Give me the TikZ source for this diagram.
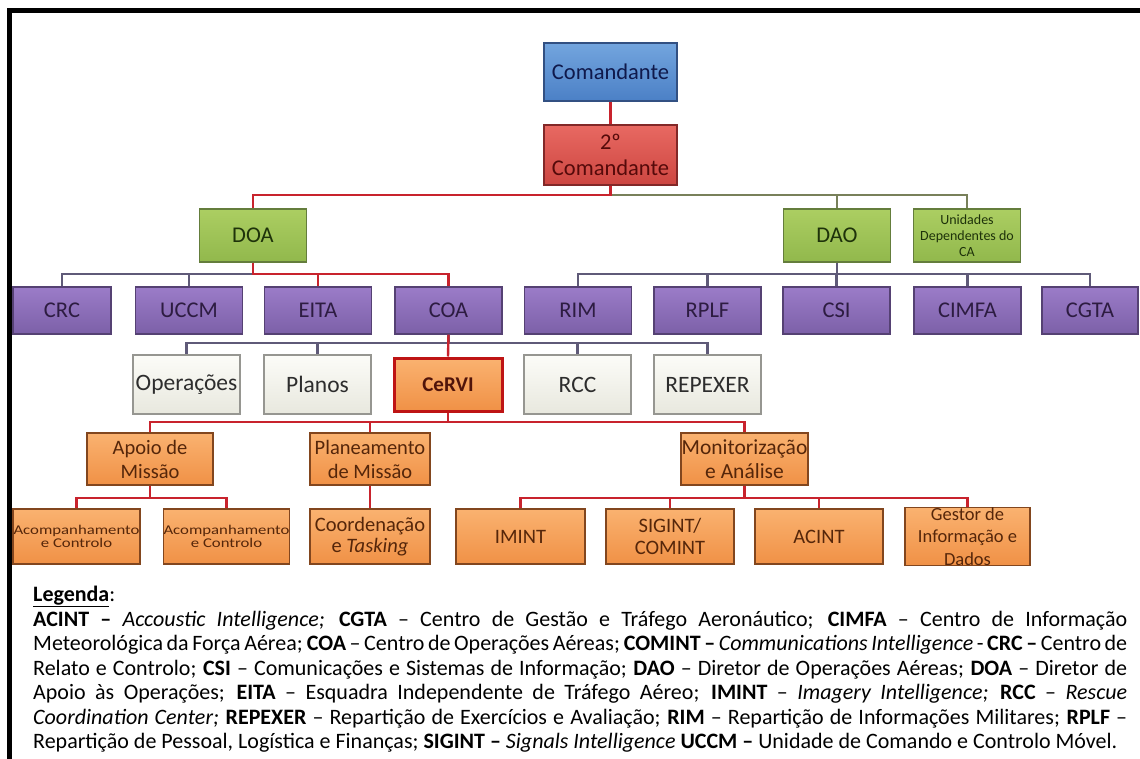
\documentclass[tikz,border=0pt]{standalone}
\usepackage{fontspec}
\setmainfont{Carlito}
\newfontfamily\widefont{Carlito}[FakeStretch=1.25]
\definecolor{linkred}{RGB}{200,35,45}
\definecolor{linkgray}{RGB}{95,90,120}
\definecolor{linkolive}{RGB}{120,128,90}
\begin{document}
\begin{tikzpicture}[x=1pt,y=-1pt,
  box/.style={rectangle,inner sep=0pt,align=center,line width=1.2pt},
  bluebox/.style={box,top color={rgb,255:red,115;green,165;blue,222},bottom color={rgb,255:red,75;green,128;blue,198},
    draw={rgb,255:red,50;green,80;blue,130},text={rgb,255:red,15;green,25;blue,75},
    minimum width=133pt,minimum height=58pt,font=\fontsize{22.5}{26}\selectfont},
  redbox/.style={box,top color={rgb,255:red,232;green,105;blue,98},bottom color={rgb,255:red,205;green,70;blue,65},
    draw={rgb,255:red,130;green,40;blue,40},text={rgb,255:red,85;green,10;blue,10},
    minimum width=133pt,minimum height=60pt,font=\fontsize{22.5}{26}\selectfont},
  greenbox/.style={box,top color={rgb,255:red,172;green,206;blue,98},bottom color={rgb,255:red,145;green,184;blue,76},
    draw={rgb,255:red,100;green,125;blue,60},text={rgb,255:red,30;green,50;blue,10},
    minimum width=107pt,minimum height=53pt,font=\fontsize{22.5}{24}\selectfont},
  purplebox/.style={box,top color={rgb,255:red,155;green,124;blue,200},bottom color={rgb,255:red,124;green,96;blue,168},
    draw={rgb,255:red,85;green,65;blue,115},text={rgb,255:red,45;green,28;blue,65},
    minimum width=107pt,minimum height=47pt,font=\fontsize{22.5}{24}\selectfont},
  whitebox/.style={box,top color={rgb,255:red,252;green,252;blue,248},bottom color={rgb,255:red,232;green,232;blue,222},
    draw={rgb,255:red,150;green,150;blue,145},text={rgb,255:red,45;green,45;blue,45},
    minimum width=107pt,minimum height=59pt,font=\fontsize{23.5}{24}\selectfont},
  orangebox/.style={box,top color={rgb,255:red,250;green,178;blue,112},bottom color={rgb,255:red,240;green,145;blue,70},
    draw={rgb,255:red,130;green,70;blue,30},text={rgb,255:red,85;green,38;blue,10},
    minimum height=52pt,font=\fontsize{20.5}{24}\selectfont},
  leafbox/.style={orangebox,minimum height=55pt},
  redlink/.style={draw=linkred,line width=2.4pt},
  graylink/.style={draw=linkgray,line width=2.4pt},
  olivelink/.style={draw=linkolive,line width=2.4pt},
  legend/.style={anchor=base west,inner sep=0pt,font=\fontsize{22}{24}\selectfont}]
  \useasboundingbox (0,0) rectangle (1140,759);
  % frame
  \draw[line width=5pt] (1140,11) -- (9.5,11) -- (9.5,759);
  % bus levels
  \coordinate (bus2) at (0,195);
  \coordinate (bus3) at (0,274);
  \coordinate (bus4) at (0,343);
  \coordinate (bus5) at (0,422);
  \coordinate (bus6) at (0,498);
  % Command
  \node[bluebox] (cmd) at (610.5,72) {Comandante};
  \node[redbox] (cmd2) at (610.5,155) {2º\\Comandante};
  % Directions
  \node[greenbox] (doa) at (253,235.5) {DOA};
  \node[greenbox] (dao) at (837,235.5) {DAO};
  \node[greenbox,font=\fontsize{14}{16}\selectfont] (unid) at (967,235.5) {Unidades\\Dependentes do\\CA};
  % Units
  \node[purplebox,minimum width=98pt] (crc) at (62,310.5) {CRC};
  \node[purplebox] (uccm) at (189,310.5) {UCCM};
  \node[purplebox] (eita) at (318,310.5) {EITA};
  \node[purplebox] (coa) at (448.5,310.5) {COA};
  \node[purplebox] (rim) at (578,310.5) {RIM};
  \node[purplebox] (rplf) at (707.5,310.5) {RPLF};
  \node[purplebox] (csi) at (836.5,310.5) {CSI};
  \node[purplebox] (cimfa) at (967.5,310.5) {CIMFA};
  \node[purplebox,minimum width=96pt] (cgta) at (1090,310.5) {CGTA};
  % COA sections
  \node[whitebox] (oper) at (186.5,384.5) {Operações};
  \node[whitebox] (planos) at (317.5,384.5) {Planos};
  \node[orangebox,draw={rgb,255:red,190;green,20;blue,20},line width=3pt,minimum width=108pt,minimum height=53pt,
    text={rgb,255:red,80;green,20;blue,10},font=\bfseries\fontsize{21}{24}\selectfont] (cervi) at (448,384.5) {CeRVI};
  \node[whitebox] (rcc) at (577.5,384.5) {RCC};
  \node[whitebox] (repexer) at (707.5,384.5) {REPEXER};
  % CeRVI cells
  \node[orangebox,minimum width=126pt] (apoio) at (150,459) {Apoio de\\Missão};
  \node[orangebox,minimum width=120pt] (plan) at (370,459) {Planeamento\\de Missão};
  \node[orangebox,minimum width=127pt,font=\fontsize{21.5}{24}\selectfont] (monit) at (744.5,459) {Monitorização\\e Análise};
  \node[leafbox,minimum width=127pt,font=\widefont\fontsize{13.4}{13.5}\selectfont] (acomp1) at (76.5,536.5) {Acompanhamento\\e Controlo};
  \node[leafbox,minimum width=125pt,font=\widefont\fontsize{13.4}{13.5}\selectfont] (acomp2) at (226.5,536.5) {Acompanhamento\\e Controlo};
  \node[leafbox,minimum width=120pt,font=\fontsize{20.5}{21}\selectfont] (coord) at (370,536.5) {Coordenação\\e \textit{Tasking}};
  \node[leafbox,minimum width=129pt] (imint) at (520.5,536.5) {IMINT};
  \node[leafbox,minimum width=128pt,font=\fontsize{20.5}{22}\selectfont] (sigint) at (670,536.5) {SIGINT/\\COMINT};
  \node[leafbox,minimum width=128pt] (acint) at (819,536.5) {ACINT};
  \node[leafbox,minimum width=125pt,font=\fontsize{18.5}{22.5}\selectfont] (gestor) at (967.5,536.5) {Gestor de\\Informação e\\Dados};
  % Links from 2º Comandante
  \draw[redlink] (cmd.south) -- (cmd2.north);
  \foreach \n in {dao,unid}
    \draw[olivelink] (cmd2.south) |- (\n.north |- bus2) -- (\n.north);
  \draw[redlink] (cmd2.south) |- (doa.north |- bus2) -- (doa.north);
  % Links to the units
  \foreach \n in {crc,uccm}
    \draw[graylink] (doa.south) |- (\n.north |- bus3) -- (\n.north);
  \foreach \n in {eita,coa}
    \draw[redlink] (doa.south) |- (\n.north |- bus3) -- (\n.north);
  \foreach \n in {rim,rplf,csi,cimfa,cgta}
    \draw[graylink] (dao.south) |- (\n.north |- bus3) -- (\n.north);
  % Links inside COA
  \foreach \n in {oper,planos,rcc,repexer}
    \draw[graylink] (coa.south) |- (\n.north |- bus4) -- (\n.north);
  \draw[redlink] (coa.south) -- (cervi.north);
  \foreach \n in {apoio,plan,monit}
    \draw[redlink] (cervi.south) |- (\n.north |- bus5) -- (\n.north);
  \foreach \n in {acomp1,acomp2}
    \draw[redlink] (apoio.south) |- (\n.north |- bus6) -- (\n.north);
  \draw[redlink] (plan.south) -- (coord.north);
  \foreach \n in {imint,sigint,acint,gestor}
    \draw[redlink] (monit.south) |- (\n.north |- bus6) -- (\n.north);
  % Legend
  \node[legend] (leg0) at (33,601) {\underline{\textbf{Legenda}}:};
  \node[legend] (leg1) at (33,626) {\makebox[1094pt][s]{\textbf{ACINT –} \textit{Accoustic Intelligence;} \textbf{CGTA} – Centro de Gestão e Tráfego Aeronáutico; \textbf{CIMFA} – Centro de Informação}};
  \node[legend] (leg2) at (33,650.5) {\makebox[1094pt][s]{Meteorológica da Força Aérea; \textbf{COA} – Centro de Operações Aéreas; \textbf{COMINT –} \textit{Communications Intelligence} - \textbf{CRC –} Centro de}};
  \node[legend] (leg3) at (33,675) {\makebox[1094pt][s]{Relato e Controlo; \textbf{CSI} – Comunicações e Sistemas de Informação; \textbf{DAO} – Diretor de Operações Aéreas; \textbf{DOA} – Diretor de}};
  \node[legend] (leg4) at (33,699.5) {\makebox[1094pt][s]{Apoio às Operações; \textbf{EITA} – Esquadra Independente de Tráfego Aéreo; \textbf{IMINT} – \textit{Imagery Intelligence;} \textbf{RCC} – \textit{Rescue}}};
  \node[legend] (leg5) at (33,724) {\makebox[1094pt][s]{\textit{Coordination Center;} \textbf{REPEXER} – Repartição de Exercícios e Avaliação; \textbf{RIM} – Repartição de Informações Militares; \textbf{RPLF} –}};
  \node[legend] (leg6) at (33,748.5) {Repartição de Pessoal, Logística e Finanças; \textbf{SIGINT –} \textit{Signals Intelligence} \textbf{UCCM –} Unidade de Comando e Controlo Móvel.};
\end{tikzpicture}
\end{document}
